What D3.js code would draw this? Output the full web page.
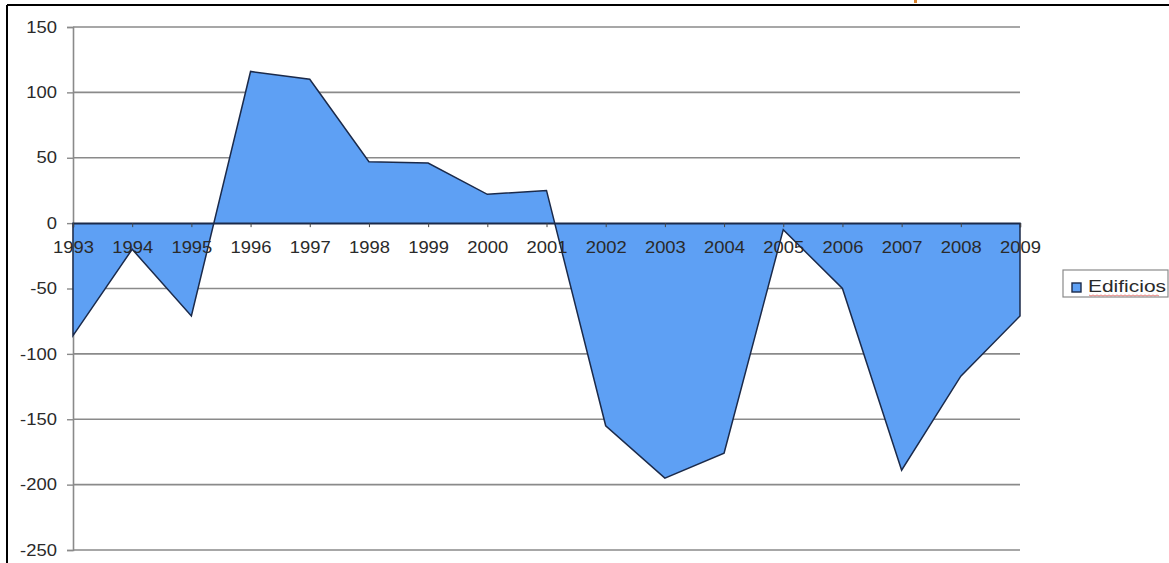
<!DOCTYPE html>
<html>
<head>
<meta charset="utf-8">
<script src="https://cdn.jsdelivr.net/npm/d3@7"></script>
<style>
  html, body { margin: 0; padding: 0; background: #fff; }
  svg { display: block; }
  text { font-family: Arial, "Liberation Sans", sans-serif; }
</style>
</head>
<body>
<svg id="chart" width="1169" height="563"></svg>
<script>
// Yearly balance of buildings ("Edificios"), 1993–2009
const years = [1993, 1994, 1995, 1996, 1997, 1998, 1999, 2000, 2001,
               2002, 2003, 2004, 2005, 2006, 2007, 2008, 2009];
const edificios = [-86, -20, -71, 116, 110, 47, 46, 22, 25,
                   -155, -195, -176, -5, -50, -189, -117, -71];
const yTicks = [150, 100, 50, 0, -50, -100, -150, -200, -250];
const seriesName = "Edificios";

const svg = d3.select("#chart");
const W = 1169, H = 563;
const textStretch = 1.15;   // labels are drawn slightly widened

const x = d3.scalePoint().domain(years).range([73, 1020]);
const y = d3.scaleLinear().domain([-250, 150]).range([550, 27]);

// outer frame (top and left edges visible)
svg.append("line").attr("x1", 7).attr("x2", W).attr("y1", 5).attr("y2", 5)
  .attr("stroke", "#000").attr("stroke-width", 2);
svg.append("line").attr("x1", 7).attr("x2", 7).attr("y1", 5).attr("y2", H)
  .attr("stroke", "#000").attr("stroke-width", 2);
// small orange fragment along the top edge
svg.append("rect").attr("x", 914).attr("y", 0).attr("width", 3).attr("height", 3)
  .attr("fill", "#d9822b");

// horizontal gridlines
svg.append("g").selectAll("line").data(yTicks.filter(d => d !== 0)).join("line")
  .attr("x1", 73).attr("x2", 1020)
  .attr("y1", d => y(d)).attr("y2", d => y(d))
  .attr("stroke", "#8a8a8a").attr("stroke-width", 1.6);

// y axis with tick labels
const yAxis = svg.append("g").attr("transform", "translate(73,0)")
  .call(d3.axisLeft(y).tickValues(yTicks).tickSize(6).tickPadding(8)
    .tickFormat(d => String(d)));
yAxis.select(".domain").attr("stroke", "#8a8a8a").attr("stroke-width", 1.6);
yAxis.selectAll(".tick line").attr("stroke", "#8a8a8a").attr("stroke-width", 1.4);
yAxis.selectAll(".tick text").attr("font-size", 16).attr("fill", "#2a2a2a")
  .attr("font-family", "Arial, 'Liberation Sans', sans-serif")
  .attr("transform", `scale(${textStretch},1)`);

// area filled between the series and zero
const area = d3.area()
  .x((d, i) => x(years[i]))
  .y0(y(0))
  .y1(d => y(d));
svg.append("path").datum(edificios)
  .attr("d", area)
  .attr("fill", "#5ea0f4")
  .attr("stroke", "#1b2a4a")
  .attr("stroke-width", 1.5)
  .attr("stroke-linejoin", "miter");

// x axis on the zero line
const xAxis = svg.append("g").attr("transform", `translate(0,${y(0)})`)
  .call(d3.axisBottom(x).tickSize(4).tickPadding(15).tickFormat(d => String(d)));
xAxis.select(".domain").attr("stroke", "#1b2a4a").attr("stroke-width", 1.5);
xAxis.selectAll(".tick line").attr("stroke", "#444").attr("stroke-width", 1);
xAxis.selectAll(".tick text").attr("font-size", 16).attr("fill", "#2a2a2a")
  .attr("font-family", "Arial, 'Liberation Sans', sans-serif")
  .attr("transform", `scale(${textStretch},1)`);

// legend
const lg = svg.append("g").attr("transform", "translate(1063,270)");
lg.append("rect").attr("x", 0).attr("y", 0).attr("width", 105).attr("height", 27)
  .attr("fill", "#fff").attr("stroke", "#8a8a8a").attr("stroke-width", 1.2);
lg.append("rect").attr("x", 9).attr("y", 13).attr("width", 9).attr("height", 9)
  .attr("fill", "#5ea0f4").attr("stroke", "#1b2a4a").attr("stroke-width", 1.4);
lg.append("text").attr("x", 25).attr("y", 22).attr("font-size", 16)
  .attr("textLength", 78).attr("lengthAdjust", "spacingAndGlyphs")
  .attr("fill", "#2a2a2a").text(seriesName);
lg.append("path")
  .attr("d", d3.range(0, 72, 2).map((d, i) => (i ? "L" : "M") + (26 + d) + "," + (25 + (i % 2))).join(""))
  .attr("fill", "none").attr("stroke", "#e0605a").attr("stroke-width", 0.8);
</script>
</body>
</html>
